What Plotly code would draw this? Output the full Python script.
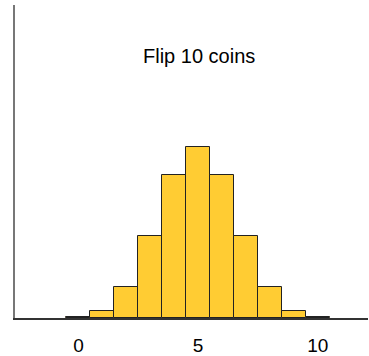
import plotly.graph_objects as go

heads = list(range(11))
counts = [1, 10, 45, 120, 210, 252, 210, 120, 45, 10, 1]
probs = [c / 1024 for c in counts]
tick_vals = [0, 5, 10]
tick_text = ["0", "5", "10"]
title_text = "Flip 10 coins"

fig = go.Figure()
fig.add_trace(go.Bar(
    x=heads, y=probs, width=1,
    marker=dict(color="#FFCC33", line=dict(color="#222222", width=1)),
))

fig.update_layout(
    width=369, height=356,
    margin=dict(l=15, r=1, t=5, b=38, autoexpand=False),
    plot_bgcolor="white", paper_bgcolor="white",
    showlegend=False, bargap=0,
    font=dict(family="Liberation Sans, Arial, sans-serif", size=19, color="black"),
    annotations=[dict(text=title_text, x=5.05, xref="x", y=0.837, yref="paper",
                      yanchor="middle", xanchor="center",
                      showarrow=False, font=dict(size=20, color="black"))],
)
fig.update_xaxes(range=[-2.65, 12.1], tickvals=tick_vals, ticktext=tick_text,
                 showline=True, linecolor="#333333", linewidth=1.5, automargin=False,
                 showgrid=False, zeroline=False, ticks="", ticklabelstandoff=9)
fig.update_yaxes(range=[0, 0.45], showline=True, linecolor="#777777", linewidth=1.5,
                 automargin=False,
                 showgrid=False, zeroline=False, showticklabels=False, ticks="")

fig.write_html(
    "out.html",
    config={"displayModeBar": False},
    post_script=(
        "document.body.style.margin='0';"
        "document.body.style.overflow='hidden';"
        "document.documentElement.style.overflow='hidden';"
        "window.scrollTo(0,0);"
    ),
)
